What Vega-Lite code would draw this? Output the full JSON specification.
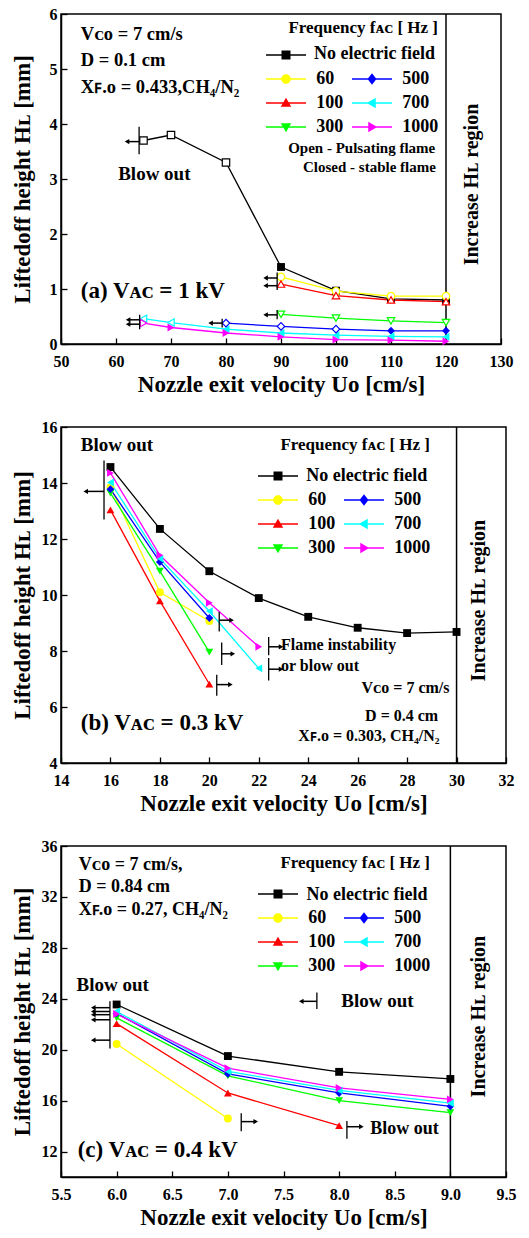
{
"$schema":"https://vega.github.io/schema/vega-lite/v6.json",
"padding":{"left":10,"top":5,"right":5,"bottom":5},
"spacing":21,
"background":"white",
"config":{
 "font":"Liberation Serif",
 "view":{"stroke":"black","strokeWidth":1.5},
 "axis":{"grid":false,"domainColor":"black","domainWidth":1.5,"tickColor":"black","tickWidth":1.3,"tickSize":-6,"labelPadding":10,"labelFont":"Liberation Serif","labelFontSize":16,"labelFontWeight":"bold","labelColor":"black","labelFlush":false,"labelOverlap":false,"titleFont":"Liberation Serif","titleFontSize":23,"titleFontWeight":"bold","titleColor":"black","titlePadding":4},
 "axisX":{"labelPadding":15},
 "axisY":{"minExtent":25,"maxExtent":25,"titlePadding":2},
 "legend":{"padding":0,"symbolSize":100,"labelFont":"Liberation Serif","labelFontSize":18,"labelFontWeight":"bold","labelColor":"black","titleFont":"Liberation Serif","titleFontSize":17,"titleFontWeight":"bold","titleColor":"black"}
},
"datasets":{
 "pts":[
  {"p":"a","s":"No electric field","u":65,"h":3.7,"o":true},{"p":"a","s":"No electric field","u":70,"h":3.8,"o":true},{"p":"a","s":"No electric field","u":80,"h":3.3,"o":true},{"p":"a","s":"No electric field","u":90,"h":1.4,"o":false},{"p":"a","s":"No electric field","u":100,"h":0.97,"o":false},{"p":"a","s":"No electric field","u":110,"h":0.82,"o":false},{"p":"a","s":"No electric field","u":120,"h":0.8,"o":false},
  {"p":"a","s":"60","u":90,"h":1.22,"o":true},{"p":"a","s":"60","u":100,"h":0.96,"o":true},{"p":"a","s":"60","u":110,"h":0.87,"o":true},{"p":"a","s":"60","u":120,"h":0.87,"o":true},
  {"p":"a","s":"100","u":90,"h":1.09,"o":true},{"p":"a","s":"100","u":100,"h":0.88,"o":true},{"p":"a","s":"100","u":110,"h":0.8,"o":true},{"p":"a","s":"100","u":120,"h":0.77,"o":true},
  {"p":"a","s":"300","u":90,"h":0.54,"o":true},{"p":"a","s":"300","u":100,"h":0.47,"o":true},{"p":"a","s":"300","u":110,"h":0.42,"o":true},{"p":"a","s":"300","u":120,"h":0.39,"o":true},
  {"p":"a","s":"500","u":80,"h":0.38,"o":true},{"p":"a","s":"500","u":90,"h":0.32,"o":true},{"p":"a","s":"500","u":100,"h":0.27,"o":true},{"p":"a","s":"500","u":110,"h":0.24,"o":false},{"p":"a","s":"500","u":120,"h":0.24,"o":false},
  {"p":"a","s":"700","u":65,"h":0.46,"o":true},{"p":"a","s":"700","u":70,"h":0.39,"o":true},{"p":"a","s":"700","u":80,"h":0.27,"o":false},{"p":"a","s":"700","u":90,"h":0.2,"o":false},{"p":"a","s":"700","u":100,"h":0.16,"o":false},{"p":"a","s":"700","u":110,"h":0.14,"o":false},{"p":"a","s":"700","u":120,"h":0.13,"o":false},
  {"p":"a","s":"1000","u":65,"h":0.38,"o":true},{"p":"a","s":"1000","u":70,"h":0.3,"o":false},{"p":"a","s":"1000","u":80,"h":0.2,"o":false},{"p":"a","s":"1000","u":90,"h":0.13,"o":false},{"p":"a","s":"1000","u":100,"h":0.08,"o":false},{"p":"a","s":"1000","u":110,"h":0.07,"o":false},{"p":"a","s":"1000","u":120,"h":0.05,"o":false},
  {"p":"b","s":"No electric field","u":16,"h":14.57,"o":false},{"p":"b","s":"No electric field","u":18,"h":12.36,"o":false},{"p":"b","s":"No electric field","u":20,"h":10.85,"o":false},{"p":"b","s":"No electric field","u":22,"h":9.89,"o":false},{"p":"b","s":"No electric field","u":24,"h":9.22,"o":false},{"p":"b","s":"No electric field","u":26,"h":8.83,"o":false},{"p":"b","s":"No electric field","u":28,"h":8.64,"o":false},{"p":"b","s":"No electric field","u":30,"h":8.68,"o":false},
  {"p":"b","s":"60","u":16,"h":13.85,"o":false},{"p":"b","s":"60","u":18,"h":10.1,"o":false},{"p":"b","s":"60","u":20,"h":9.07,"o":false},
  {"p":"b","s":"100","u":16,"h":13.04,"o":false},{"p":"b","s":"100","u":18,"h":9.79,"o":false},{"p":"b","s":"100","u":20,"h":6.82,"o":false},
  {"p":"b","s":"300","u":16,"h":13.64,"o":false},{"p":"b","s":"300","u":18,"h":10.85,"o":false},{"p":"b","s":"300","u":20,"h":7.96,"o":false},
  {"p":"b","s":"500","u":16,"h":13.78,"o":false},{"p":"b","s":"500","u":18,"h":11.18,"o":false},{"p":"b","s":"500","u":20,"h":9.18,"o":false},
  {"p":"b","s":"700","u":16,"h":14.02,"o":false},{"p":"b","s":"700","u":18,"h":11.3,"o":false},{"p":"b","s":"700","u":20,"h":9.42,"o":false},{"p":"b","s":"700","u":22,"h":7.38,"o":false},
  {"p":"b","s":"1000","u":16,"h":14.36,"o":false},{"p":"b","s":"1000","u":18,"h":11.42,"o":false},{"p":"b","s":"1000","u":20,"h":9.72,"o":false},{"p":"b","s":"1000","u":22,"h":8.15,"o":false},
  {"p":"c","s":"No electric field","u":6,"h":23.55,"o":false},{"p":"c","s":"No electric field","u":7,"h":19.5,"o":false},{"p":"c","s":"No electric field","u":8,"h":18.26,"o":false},{"p":"c","s":"No electric field","u":9,"h":17.7,"o":false},
  {"p":"c","s":"60","u":6,"h":20.45,"o":false},{"p":"c","s":"60","u":7,"h":14.6,"o":false},
  {"p":"c","s":"100","u":6,"h":22.05,"o":false},{"p":"c","s":"100","u":7,"h":16.6,"o":false},{"p":"c","s":"100","u":8,"h":14.03,"o":false},
  {"p":"c","s":"300","u":6,"h":22.5,"o":false},{"p":"c","s":"300","u":7,"h":17.95,"o":false},{"p":"c","s":"300","u":8,"h":16.0,"o":false},{"p":"c","s":"300","u":9,"h":15.05,"o":false},
  {"p":"c","s":"500","u":6,"h":22.85,"o":false},{"p":"c","s":"500","u":7,"h":18.1,"o":false},{"p":"c","s":"500","u":8,"h":16.6,"o":false},{"p":"c","s":"500","u":9,"h":15.55,"o":false},
  {"p":"c","s":"700","u":6,"h":23.0,"o":false},{"p":"c","s":"700","u":7,"h":18.3,"o":false},{"p":"c","s":"700","u":8,"h":16.8,"o":false},{"p":"c","s":"700","u":9,"h":15.8,"o":false},
  {"p":"c","s":"1000","u":6,"h":22.8,"o":false},{"p":"c","s":"1000","u":7,"h":18.55,"o":false},{"p":"c","s":"1000","u":8,"h":17.0,"o":false},{"p":"c","s":"1000","u":9,"h":16.1,"o":false}
 ],
 "bnd":[{"p":"a","u":120,"h":0,"h2":6},{"p":"b","u":30,"h":4,"h2":16},{"p":"c","u":9,"h":10,"h2":36}],
 "arr":[
  {"p":"a","u":62,"u2":64.2,"h":3.68,"d":"l"},{"p":"a","u":87.2,"u2":89.3,"h":1.2,"d":"l"},{"p":"a","u":87.2,"u2":89.3,"h":1.06,"d":"l"},{"p":"a","u":87.2,"u2":89.3,"h":0.53,"d":"l"},{"p":"a","u":77.2,"u2":79.3,"h":0.38,"d":"l"},{"p":"a","u":62.2,"u2":64.3,"h":0.44,"d":"l"},{"p":"a","u":62.2,"u2":64.3,"h":0.36,"d":"l"},
  {"p":"b","u":15.0,"u2":15.74,"h":13.7,"d":"l"},{"p":"b","u":20.9,"u2":20.4,"h":9.1,"d":"r"},{"p":"b","u":20.95,"u2":20.5,"h":7.9,"d":"r"},{"p":"b","u":20.85,"u2":20.3,"h":6.8,"d":"r"},{"p":"b","u":22.9,"u2":22.4,"h":8.15,"d":"r"},{"p":"b","u":22.9,"u2":22.4,"h":7.35,"d":"r"},
  {"p":"c","u":5.79,"u2":5.94,"h":23.3,"d":"l"},{"p":"c","u":5.79,"u2":5.94,"h":23.0,"d":"l"},{"p":"c","u":5.79,"u2":5.94,"h":22.75,"d":"l"},{"p":"c","u":5.79,"u2":5.94,"h":22.35,"d":"l"},{"p":"c","u":5.79,"u2":5.94,"h":20.75,"d":"l"},{"p":"c","u":7.25,"u2":7.12,"h":14.35,"d":"r"},{"p":"c","u":8.2,"u2":8.07,"h":13.95,"d":"r"},{"p":"c","u":7.66,"u2":7.8,"h":23.8,"d":"l"}
 ],
 "bar":[
  {"p":"a","u":64.2,"h":3.45,"h2":3.95},{"p":"a","u":89.3,"h":0.98,"h2":1.3},{"p":"a","u":89.3,"h":0.45,"h2":0.62},{"p":"a","u":79.3,"h":0.3,"h2":0.46},{"p":"a","u":64.3,"h":0.27,"h2":0.53},
  {"p":"b","u":15.74,"h":12.7,"h2":14.8},{"p":"b","u":20.4,"h":8.7,"h2":9.4},{"p":"b","u":20.5,"h":7.5,"h2":8.3},{"p":"b","u":20.3,"h":6.4,"h2":7.15},{"p":"b","u":22.4,"h":7.85,"h2":8.5},{"p":"b","u":22.4,"h":6.95,"h2":7.75},
  {"p":"c","u":5.94,"h":20.1,"h2":23.8},{"p":"c","u":7.12,"h":13.6,"h2":15.0},{"p":"c","u":8.07,"h":13.0,"h2":14.4},{"p":"c","u":7.8,"h":23.2,"h2":24.5}
 ],
 "notes":[
  {"p":"a","k":"info","u":53.6,"h":5.63,"t":"Vᴄᴏ = 7 cm/s"},{"p":"a","k":"info","u":53.6,"h":5.16,"t":"D = 0.1 cm"},{"p":"a","k":"info","u":53.6,"h":4.68,"t":"Xꜰ.ᴏ = 0.433,CH₄/N₂"},
  {"p":"a","k":"blow","u":60.4,"h":3.1,"t":"Blow out"},
  {"p":"a","k":"small","u":91.3,"h":3.57,"t":"Open - Pulsating flame"},{"p":"a","k":"small","u":94.0,"h":3.22,"t":"Closed - stable flame"},
  {"p":"a","k":"big","u":53.6,"h":0.97,"t":"(a) Vᴀᴄ = 1 kV"},
  {"p":"a","k":"region","u":124.7,"h":2.9,"t":"Increase Hʟ region"},
  {"p":"a","k":"leg","u":96.0,"h":5.27,"t":"No electric field"},
  {"p":"b","k":"blow","u":14.8,"h":15.36,"t":"Blow out"},
  {"p":"b","k":"info","u":22.9,"h":8.2,"t":"Flame instability"},{"p":"b","k":"info","u":22.9,"h":7.46,"t":"or blow out"},
  {"p":"b","k":"info","u":26.15,"h":6.68,"t":"Vᴄᴏ = 7 cm/s"},{"p":"b","k":"info","u":26.3,"h":5.68,"t":"D = 0.4 cm"},{"p":"b","k":"info","u":23.6,"h":4.96,"t":"Xꜰ.ᴏ = 0.303, CH₄/N₂"},
  {"p":"b","k":"big","u":14.8,"h":5.43,"t":"(b) Vᴀᴄ = 0.3 kV"},
  {"p":"b","k":"region","u":30.9,"h":9.8,"t":"Increase Hʟ region"},
  {"p":"b","k":"leg","u":23.92,"h":14.25,"t":"No electric field"},
  {"p":"c","k":"info","u":5.66,"h":34.5,"t":"Vᴄᴏ = 7 cm/s,"},{"p":"c","k":"info","u":5.66,"h":32.8,"t":"D = 0.84 cm"},{"p":"c","k":"info","u":5.66,"h":31.0,"t":"Xꜰ.ᴏ = 0.27, CH₄/N₂"},
  {"p":"c","k":"info","u":8.28,"h":13.8,"t":"Blow out"},
  {"p":"c","k":"blow","u":5.64,"h":25.1,"t":"Blow out"},{"p":"c","k":"blow","u":8.02,"h":23.8,"t":"Blow out"},
  {"p":"c","k":"big","u":5.65,"h":12.1,"t":"(c) Vᴀᴄ = 0.4 kV"},
  {"p":"c","k":"region","u":9.26,"h":22.6,"t":"Increase Hʟ region"},
  {"p":"c","k":"leg","u":7.707,"h":32.17,"t":"No electric field"}
 ]
},
"resolve":{"scale":{"color":"independent","stroke":"independent"},"legend":{"color":"independent","stroke":"independent"}},
"vconcat":[
 {
  "width":440,"height":330,
  "encoding":{
   "x":{"field":"u","type":"quantitative","scale":{"domain":[50,130],"nice":false,"zero":false},"axis":{"values":[50,60,70,80,90,100,110,120,130],"title":"Nozzle exit velocity Uᴏ [cm/s]"}},
   "y":{"field":"h","type":"quantitative","scale":{"domain":[0,6],"nice":false,"zero":false},"axis":{"values":[0,1,2,3,4,5,6],"title":"Liftedoff height Hʟ [mm]"}}
  },
  "layer":[
   {"data":{"name":"bnd"},"transform":[{"filter":"datum.p==='a'"}],"mark":{"type":"rule","color":"black","strokeWidth":1.5},"encoding":{"y2":{"field":"h2"}}},
   {"data":{"name":"pts"},"transform":[{"filter":"datum.p==='a'"}],"mark":{"type":"line","strokeWidth":1.3},"encoding":{"stroke":{"field":"s","type":"nominal","scale":{"domain":["No electric field","60","500","100","700","300","1000"],"range":["#000000","#ffff00","#0000ff","#ff0000","#00ffff","#00ff00","#ff00ff"]},"legend":null}}},
   {"data":{"name":"pts"},"transform":[{"filter":"datum.p==='a' && !datum.o"}],
    "mark":{"type":"point","filled":true,"size":62,"opacity":1,"shape":{"expr":"datum.s ? (datum.s==='No electric field'?'square':datum.s==='60'?'circle':datum.s==='100'?'triangle-up':datum.s==='300'?'triangle-down':datum.s==='500'?'diamond':datum.s==='700'?'triangle-left':'triangle-right') : (datum.value==='No electric field'?'M-4,-0.13H4V0.13H-4ZM-0.9,-0.9H0.9V0.9H-0.9Z':datum.value==='60'?'M-4,-0.13H4V0.13H-4ZM0.95,0A0.95,0.95,0,1,1,-0.95,0A0.95,0.95,0,1,1,0.95,0Z':datum.value==='500'?'M-4,-0.13H4V0.13H-4ZM0,-1.15L0.9,0L0,1.15L-0.9,0Z':datum.value==='100'?'M-4,-0.13H4V0.13H-4ZM0,-1.05L1.05,0.75L-1.05,0.75Z':datum.value==='700'?'M-4,-0.13H4V0.13H-4ZM-1.05,0L0.75,-1.05L0.75,1.05Z':datum.value==='300'?'M-4,-0.13H4V0.13H-4ZM0,1.05L-1.05,-0.75L1.05,-0.75Z':datum.value==='1000'?'M-4,-0.13H4V0.13H-4ZM1.05,0L-0.75,1.05L-0.75,-1.05Z':'M0,0Z')"}},
    "encoding":{
     "color":{"field":"s","type":"nominal","scale":{"domain":["No electric field","60","100","300"," ","500","700","1000"],"range":["#000000","#ffff00","#ff0000","#00ff00","transparent","#0000ff","#00ffff","#ff00ff"]},
       "legend":{"orient":"none","legendX":216,"legendY":6,"columns":2,"symbolSize":100,"title":"Frequency fᴀᴄ [ Hz ]","titleAnchor":"end","titlePadding":9,"rowPadding":6,"columnPadding":8,"labelOffset":21.3,"labelExpr":"datum.value === 'No electric field' ? '' : datum.label"}}}},
   {"data":{"name":"pts"},"transform":[{"filter":"datum.p==='a' && datum.o"}],
    "mark":{"type":"point","filled":false,"fill":"white","size":55,"strokeWidth":1.2,"opacity":1,"shape":{"expr":"datum.s==='No electric field'?'square':datum.s==='60'?'circle':datum.s==='100'?'triangle-up':datum.s==='300'?'triangle-down':datum.s==='500'?'diamond':datum.s==='700'?'triangle-left':'triangle-right'"}},
    "encoding":{"stroke":{"field":"s","type":"nominal","scale":{"domain":["No electric field","60","500","100","700","300","1000"],"range":["#000000","#ffff00","#0000ff","#ff0000","#00ffff","#00ff00","#ff00ff"]},"legend":null}}},
   {"data":{"name":"arr"},"transform":[{"filter":"datum.p==='a'"}],"mark":{"type":"rule","color":"black","strokeWidth":1.5},"encoding":{"x2":{"field":"u2"}}},
   {"data":{"name":"bar"},"transform":[{"filter":"datum.p==='a'"}],"mark":{"type":"rule","color":"black","strokeWidth":1.3},"encoding":{"y2":{"field":"h2"}}},
   {"data":{"name":"arr"},"transform":[{"filter":"datum.p==='a' && datum.d==='l'"}],"mark":{"type":"point","shape":"triangle-left","filled":true,"color":"black","size":28,"opacity":1}},
   {"data":{"name":"notes"},"transform":[{"filter":"datum.p==='a' && datum.k==='info'"}],"mark":{"type":"text","align":"left","baseline":"middle","font":"Liberation Serif","fontWeight":"bold","fontSize":18.5,"color":"black"},"encoding":{"text":{"field":"t"}}},
   {"data":{"name":"notes"},"transform":[{"filter":"datum.p==='a' && datum.k==='blow'"}],"mark":{"type":"text","align":"left","baseline":"middle","font":"Liberation Serif","fontWeight":"bold","fontSize":19,"color":"black"},"encoding":{"text":{"field":"t"}}},
   {"data":{"name":"notes"},"transform":[{"filter":"datum.p==='a' && datum.k==='leg'"}],"mark":{"type":"text","align":"left","baseline":"middle","font":"Liberation Serif","fontWeight":"bold","fontSize":18,"color":"black"},"encoding":{"text":{"field":"t"}}},
   {"data":{"name":"notes"},"transform":[{"filter":"datum.p==='a' && datum.k==='small'"}],"mark":{"type":"text","align":"left","baseline":"middle","font":"Liberation Serif","fontWeight":"bold","fontSize":15,"color":"black"},"encoding":{"text":{"field":"t"}}},
   {"data":{"name":"notes"},"transform":[{"filter":"datum.p==='a' && datum.k==='big'"}],"mark":{"type":"text","align":"left","baseline":"middle","font":"Liberation Serif","fontWeight":"bold","fontSize":23,"color":"black"},"encoding":{"text":{"field":"t"}}},
   {"data":{"name":"notes"},"transform":[{"filter":"datum.p==='a' && datum.k==='region'"}],"mark":{"type":"text","align":"center","baseline":"middle","angle":270,"font":"Liberation Serif","fontWeight":"bold","fontSize":20,"color":"black"},"encoding":{"text":{"field":"t"}}}
  ]
 },
 {
  "width":445,"height":336,
  "encoding":{
   "x":{"field":"u","type":"quantitative","scale":{"domain":[14,32],"nice":false,"zero":false},"axis":{"values":[14,16,18,20,22,24,26,28,30,32],"title":"Nozzle exit velocity Uᴏ [cm/s]"}},
   "y":{"field":"h","type":"quantitative","scale":{"domain":[4,16],"nice":false,"zero":false},"axis":{"values":[4,6,8,10,12,14,16],"title":"Liftedoff height Hʟ [mm]"}}
  },
  "layer":[
   {"data":{"name":"bnd"},"transform":[{"filter":"datum.p==='b'"}],"mark":{"type":"rule","color":"black","strokeWidth":1.5},"encoding":{"y2":{"field":"h2"}}},
   {"data":{"name":"pts"},"transform":[{"filter":"datum.p==='b'"}],"mark":{"type":"line","strokeWidth":1.3},"encoding":{"stroke":{"field":"s","type":"nominal","scale":{"domain":["No electric field","60","500","100","700","300","1000"],"range":["#000000","#ffff00","#0000ff","#ff0000","#00ffff","#00ff00","#ff00ff"]},"legend":null}}},
   {"data":{"name":"pts"},"transform":[{"filter":"datum.p==='b'"}],
    "mark":{"type":"point","filled":true,"size":62,"opacity":1,"shape":{"expr":"datum.s ? (datum.s==='No electric field'?'square':datum.s==='60'?'circle':datum.s==='100'?'triangle-up':datum.s==='300'?'triangle-down':datum.s==='500'?'diamond':datum.s==='700'?'triangle-left':'triangle-right') : (datum.value==='No electric field'?'M-4,-0.13H4V0.13H-4ZM-0.9,-0.9H0.9V0.9H-0.9Z':datum.value==='60'?'M-4,-0.13H4V0.13H-4ZM0.95,0A0.95,0.95,0,1,1,-0.95,0A0.95,0.95,0,1,1,0.95,0Z':datum.value==='500'?'M-4,-0.13H4V0.13H-4ZM0,-1.15L0.9,0L0,1.15L-0.9,0Z':datum.value==='100'?'M-4,-0.13H4V0.13H-4ZM0,-1.05L1.05,0.75L-1.05,0.75Z':datum.value==='700'?'M-4,-0.13H4V0.13H-4ZM-1.05,0L0.75,-1.05L0.75,1.05Z':datum.value==='300'?'M-4,-0.13H4V0.13H-4ZM0,1.05L-1.05,-0.75L1.05,-0.75Z':datum.value==='1000'?'M-4,-0.13H4V0.13H-4ZM1.05,0L-0.75,1.05L-0.75,-1.05Z':'M0,0Z')"}},
    "encoding":{
     "color":{"field":"s","type":"nominal","scale":{"domain":["No electric field","60","100","300"," ","500","700","1000"],"range":["#000000","#ffff00","#ff0000","#00ff00","transparent","#0000ff","#00ffff","#ff00ff"]},
       "legend":{"orient":"none","legendX":208,"legendY":10,"columns":2,"symbolSize":100,"title":"Frequency fᴀᴄ [ Hz ]","titleAnchor":"end","titlePadding":13,"rowPadding":6,"columnPadding":8,"labelOffset":21.3,"labelExpr":"datum.value === 'No electric field' ? '' : datum.label"}}}},
   {"data":{"name":"arr"},"transform":[{"filter":"datum.p==='b'"}],"mark":{"type":"rule","color":"black","strokeWidth":1.5},"encoding":{"x2":{"field":"u2"}}},
   {"data":{"name":"bar"},"transform":[{"filter":"datum.p==='b'"}],"mark":{"type":"rule","color":"black","strokeWidth":1.3},"encoding":{"y2":{"field":"h2"}}},
   {"data":{"name":"arr"},"transform":[{"filter":"datum.p==='b' && datum.d==='l'"}],"mark":{"type":"point","shape":"triangle-left","filled":true,"color":"black","size":28,"opacity":1}},
   {"data":{"name":"arr"},"transform":[{"filter":"datum.p==='b' && datum.d==='r'"}],"mark":{"type":"point","shape":"triangle-right","filled":true,"color":"black","size":28,"opacity":1}},
   {"data":{"name":"notes"},"transform":[{"filter":"datum.p==='b' && datum.k==='info'"}],"mark":{"type":"text","align":"left","baseline":"middle","font":"Liberation Serif","fontWeight":"bold","fontSize":16,"color":"black"},"encoding":{"text":{"field":"t"}}},
   {"data":{"name":"notes"},"transform":[{"filter":"datum.p==='b' && datum.k==='blow'"}],"mark":{"type":"text","align":"left","baseline":"middle","font":"Liberation Serif","fontWeight":"bold","fontSize":19,"color":"black"},"encoding":{"text":{"field":"t"}}},
   {"data":{"name":"notes"},"transform":[{"filter":"datum.p==='b' && datum.k==='leg'"}],"mark":{"type":"text","align":"left","baseline":"middle","font":"Liberation Serif","fontWeight":"bold","fontSize":18,"color":"black"},"encoding":{"text":{"field":"t"}}},
   {"data":{"name":"notes"},"transform":[{"filter":"datum.p==='b' && datum.k==='big'"}],"mark":{"type":"text","align":"left","baseline":"middle","font":"Liberation Serif","fontWeight":"bold","fontSize":23,"color":"black"},"encoding":{"text":{"field":"t"}}},
   {"data":{"name":"notes"},"transform":[{"filter":"datum.p==='b' && datum.k==='region'"}],"mark":{"type":"text","align":"center","baseline":"middle","angle":270,"font":"Liberation Serif","fontWeight":"bold","fontSize":20,"color":"black"},"encoding":{"text":{"field":"t"}}}
  ]
 },
 {
  "width":445,"height":331,
  "encoding":{
   "x":{"field":"u","type":"quantitative","scale":{"domain":[5.5,9.5],"nice":false,"zero":false},"axis":{"values":[5.5,6,6.5,7,7.5,8,8.5,9,9.5],"format":".1f","title":"Nozzle exit velocity Uᴏ [cm/s]"}},
   "y":{"field":"h","type":"quantitative","scale":{"domain":[10,36],"nice":false,"zero":false},"axis":{"values":[12,16,20,24,28,32,36],"title":"Liftedoff height Hʟ [mm]"}}
  },
  "layer":[
   {"data":{"name":"bnd"},"transform":[{"filter":"datum.p==='c'"}],"mark":{"type":"rule","color":"black","strokeWidth":1.5},"encoding":{"y2":{"field":"h2"}}},
   {"data":{"name":"pts"},"transform":[{"filter":"datum.p==='c'"}],"mark":{"type":"line","strokeWidth":1.3},"encoding":{"stroke":{"field":"s","type":"nominal","scale":{"domain":["No electric field","60","500","100","700","300","1000"],"range":["#000000","#ffff00","#0000ff","#ff0000","#00ffff","#00ff00","#ff00ff"]},"legend":null}}},
   {"data":{"name":"pts"},"transform":[{"filter":"datum.p==='c'"}],
    "mark":{"type":"point","filled":true,"size":62,"opacity":1,"shape":{"expr":"datum.s ? (datum.s==='No electric field'?'square':datum.s==='60'?'circle':datum.s==='100'?'triangle-up':datum.s==='300'?'triangle-down':datum.s==='500'?'diamond':datum.s==='700'?'triangle-left':'triangle-right') : (datum.value==='No electric field'?'M-4,-0.13H4V0.13H-4ZM-0.9,-0.9H0.9V0.9H-0.9Z':datum.value==='60'?'M-4,-0.13H4V0.13H-4ZM0.95,0A0.95,0.95,0,1,1,-0.95,0A0.95,0.95,0,1,1,0.95,0Z':datum.value==='500'?'M-4,-0.13H4V0.13H-4ZM0,-1.15L0.9,0L0,1.15L-0.9,0Z':datum.value==='100'?'M-4,-0.13H4V0.13H-4ZM0,-1.05L1.05,0.75L-1.05,0.75Z':datum.value==='700'?'M-4,-0.13H4V0.13H-4ZM-1.05,0L0.75,-1.05L0.75,1.05Z':datum.value==='300'?'M-4,-0.13H4V0.13H-4ZM0,1.05L-1.05,-0.75L1.05,-0.75Z':datum.value==='1000'?'M-4,-0.13H4V0.13H-4ZM1.05,0L-0.75,1.05L-0.75,-1.05Z':'M0,0Z')"}},
    "encoding":{
     "color":{"field":"s","type":"nominal","scale":{"domain":["No electric field","60","100","300"," ","500","700","1000"],"range":["#000000","#ffff00","#ff0000","#00ff00","transparent","#0000ff","#00ffff","#ff00ff"]},
       "legend":{"orient":"none","legendX":208,"legendY":9,"columns":2,"symbolSize":100,"title":"Frequency fᴀᴄ [ Hz ]","titleAnchor":"end","titlePadding":13,"rowPadding":6,"columnPadding":8,"labelOffset":21.3,"labelExpr":"datum.value === 'No electric field' ? '' : datum.label"}}}},
   {"data":{"name":"arr"},"transform":[{"filter":"datum.p==='c'"}],"mark":{"type":"rule","color":"black","strokeWidth":1.5},"encoding":{"x2":{"field":"u2"}}},
   {"data":{"name":"bar"},"transform":[{"filter":"datum.p==='c'"}],"mark":{"type":"rule","color":"black","strokeWidth":1.3},"encoding":{"y2":{"field":"h2"}}},
   {"data":{"name":"arr"},"transform":[{"filter":"datum.p==='c' && datum.d==='l'"}],"mark":{"type":"point","shape":"triangle-left","filled":true,"color":"black","size":28,"opacity":1}},
   {"data":{"name":"arr"},"transform":[{"filter":"datum.p==='c' && datum.d==='r'"}],"mark":{"type":"point","shape":"triangle-right","filled":true,"color":"black","size":28,"opacity":1}},
   {"data":{"name":"notes"},"transform":[{"filter":"datum.p==='c' && datum.k==='info'"}],"mark":{"type":"text","align":"left","baseline":"middle","font":"Liberation Serif","fontWeight":"bold","fontSize":18,"color":"black"},"encoding":{"text":{"field":"t"}}},
   {"data":{"name":"notes"},"transform":[{"filter":"datum.p==='c' && datum.k==='blow'"}],"mark":{"type":"text","align":"left","baseline":"middle","font":"Liberation Serif","fontWeight":"bold","fontSize":19,"color":"black"},"encoding":{"text":{"field":"t"}}},
   {"data":{"name":"notes"},"transform":[{"filter":"datum.p==='c' && datum.k==='leg'"}],"mark":{"type":"text","align":"left","baseline":"middle","font":"Liberation Serif","fontWeight":"bold","fontSize":18,"color":"black"},"encoding":{"text":{"field":"t"}}},
   {"data":{"name":"notes"},"transform":[{"filter":"datum.p==='c' && datum.k==='big'"}],"mark":{"type":"text","align":"left","baseline":"middle","font":"Liberation Serif","fontWeight":"bold","fontSize":23,"color":"black"},"encoding":{"text":{"field":"t"}}},
   {"data":{"name":"notes"},"transform":[{"filter":"datum.p==='c' && datum.k==='region'"}],"mark":{"type":"text","align":"center","baseline":"middle","angle":270,"font":"Liberation Serif","fontWeight":"bold","fontSize":20,"color":"black"},"encoding":{"text":{"field":"t"}}}
  ]
 }
]
}
